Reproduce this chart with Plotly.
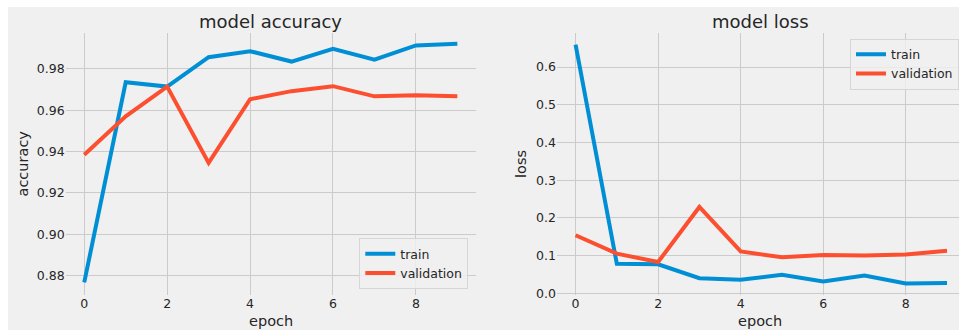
import plotly.graph_objects as go

epochs = [0, 1, 2, 3, 4, 5, 6, 7, 8, 9]
acc_train = [0.8768, 0.9735, 0.9714, 0.9856, 0.9885, 0.9835, 0.9897, 0.9844, 0.9913, 0.9921]
acc_val = [0.9385, 0.9570, 0.9714, 0.9345, 0.9653, 0.9692, 0.9716, 0.9667, 0.9672, 0.9667]
loss_train = [0.660, 0.078, 0.077, 0.040, 0.036, 0.049, 0.031, 0.047, 0.026, 0.027]
loss_val = [0.154, 0.105, 0.083, 0.229, 0.111, 0.0955, 0.1016, 0.100, 0.1027, 0.113]
acc_ticks = [0.88, 0.90, 0.92, 0.94, 0.96, 0.98]
loss_ticks = [0.0, 0.1, 0.2, 0.3, 0.4, 0.5, 0.6]
x_ticks = [0, 2, 4, 6, 8]

# reference frame is 962 x 330; the page is rendered slightly taller and scaled back
W, H_REF = 962, 330
H_FIG = 338
BLUE = "#008fd5"
RED = "#fc4f30"
BG = "#f0f0f0"
GRID = "#cbcbcb"
TXT = "#262626"
FONT = "DejaVu Sans"

def px(x):
    return x / W

def py(y):
    return 1 - y / H_REF

fig = go.Figure()
fig.add_trace(go.Scatter(x=epochs, y=acc_train, mode="lines", name="train",
                         line=dict(color=BLUE, width=4), xaxis="x", yaxis="y", legend="legend"))
fig.add_trace(go.Scatter(x=epochs, y=acc_val, mode="lines", name="validation",
                         line=dict(color=RED, width=4), xaxis="x", yaxis="y", legend="legend"))
fig.add_trace(go.Scatter(x=epochs, y=loss_train, mode="lines", name="train",
                         line=dict(color=BLUE, width=4), xaxis="x2", yaxis="y2", legend="legend2"))
fig.add_trace(go.Scatter(x=epochs, y=loss_val, mode="lines", name="validation",
                         line=dict(color=RED, width=4), xaxis="x2", yaxis="y2", legend="legend2"))

axis_common = dict(showgrid=True, gridcolor=GRID, gridwidth=1, zeroline=False, showline=False,
                   ticks="", tickfont=dict(family=FONT, size=12.5, color=TXT))

ydom = [py(293), py(33)]
fig.update_layout(
    width=W, height=H_FIG,
    margin=dict(l=0, r=0, t=0, b=0),
    paper_bgcolor="white", plot_bgcolor=BG,
    font=dict(family=FONT, color=TXT),
    xaxis=dict(domain=[px(65.6), px(476)], range=[-0.45, 9.45], tickvals=x_ticks,
               anchor="y", **axis_common),
    yaxis=dict(domain=ydom, range=[0.8708, 0.9972], tickvals=acc_ticks, tickformat=".2f",
               anchor="x", **axis_common),
    xaxis2=dict(domain=[px(557), px(959)], range=[-0.45, 9.29], tickvals=x_ticks,
                anchor="y2", **axis_common),
    yaxis2=dict(domain=ydom, range=[-0.004, 0.690], tickvals=loss_ticks, tickformat=".1f",
                anchor="x2", **axis_common),
    legend=dict(x=px(468.3), y=py(287.3), xanchor="right", yanchor="bottom",
                bgcolor="rgba(240,240,240,0.8)", bordercolor="#d6d6d6", borderwidth=1,
                font=dict(family=FONT, size=12.5, color=TXT)),
    legend2=dict(x=px(959), y=py(38.3), xanchor="right", yanchor="top",
                 bgcolor="rgba(240,240,240,0.8)", bordercolor="#d6d6d6", borderwidth=1,
                 font=dict(family=FONT, size=12.5, color=TXT)),
    shapes=[dict(type="rect", xref="paper", yref="paper", x0=px(8), x1=px(959), y0=0, y1=py(7),
                 fillcolor=BG, line=dict(width=0), layer="below")],
)

ann = [
    dict(text="model accuracy", x=px(270.8), y=py(21), size=18, angle=0),
    dict(text="model loss", x=px(760), y=py(21), size=18, angle=0),
    dict(text="epoch", x=px(270.8), y=py(319), size=14.5, angle=0),
    dict(text="epoch", x=px(760), y=py(319), size=14.5, angle=0),
    dict(text="accuracy", x=px(22.5), y=py(163), size=14.5, angle=-90),
    dict(text="loss", x=px(521), y=py(163), size=14.5, angle=-90),
]
for a in ann:
    fig.add_annotation(text=a["text"], x=a["x"], y=a["y"], xref="paper", yref="paper",
                       xanchor="center", yanchor="middle", showarrow=False, textangle=a["angle"],
                       font=dict(family=FONT, size=a["size"], color=TXT))

fig.write_html(
    "out.html",
    config={"displayModeBar": False},
    post_script="document.body.style.margin='0';document.documentElement.style.overflow='hidden';",
)
